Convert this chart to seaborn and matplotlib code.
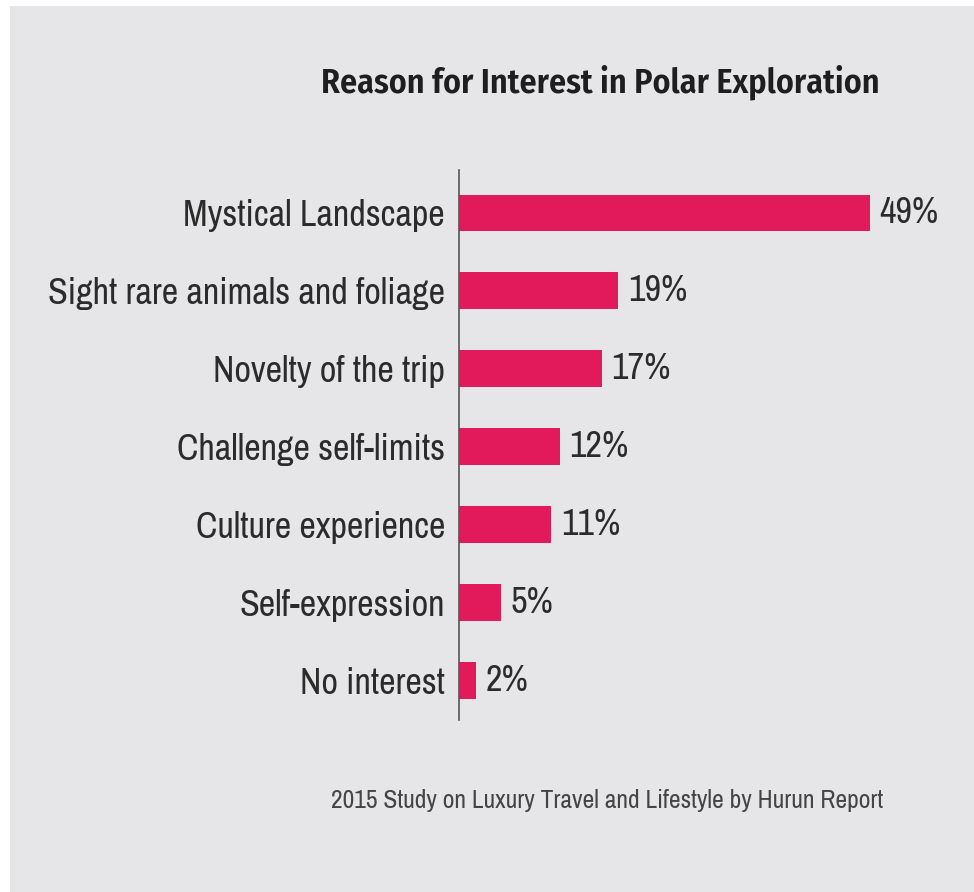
import matplotlib
matplotlib.use("Agg")
import matplotlib.pyplot as plt
import seaborn as sns
import pandas as pd

reasons = [
    "Mystical Landscape",
    "Sight rare animals and foliage",
    "Novelty of the trip",
    "Challenge self-limits",
    "Culture experience",
    "Self-expression",
    "No interest",
]
shares = [49, 19, 17, 12, 11, 5, 2]

title = "Reason for Interest in Polar Exploration"
source = "2015 Study on Luxury Travel and Lifestyle by Hurun Report"

bg = "#e6e6e8"
bar_color = "#e21a5c"
text_color = "#2b2b2b"

sns.set_theme(style="white")
plt.rcParams["font.family"] = ["Archivo Narrow", "Open Sans", "DejaVu Sans"]

df = pd.DataFrame({"reason": reasons, "share": shares})

fig = plt.figure(figsize=(9.74, 8.92), dpi=100, facecolor="white")
# gray card sitting inside a thin white margin
panel = fig.add_axes([10 / 974, 0, 964 / 974, 1 - 6 / 892])
panel.set_facecolor(bg)
panel.set_xticks([]); panel.set_yticks([])
for s in panel.spines.values():
    s.set_visible(False)

ax = fig.add_axes([459 / 974, 1 - 720 / 892, 470 / 974, 550 / 892])
ax.set_facecolor("none")
sns.barplot(data=df, x="share", y="reason", orient="h", color=bar_color,
            saturation=1, width=0.47, linewidth=0, ax=ax)

ax.set_xlim(0, 49 * 470 / 411)
ax.set_ylim(6.51, -0.55)
ax.set_xlabel(""); ax.set_ylabel("")
ax.set_xticks([])
ax.tick_params(axis="y", length=0, pad=10, labelsize=26, labelcolor=text_color)
for s in ["top", "right", "bottom"]:
    ax.spines[s].set_visible(False)
ax.spines["left"].set_color("#555555")
ax.spines["left"].set_linewidth(1.2)

ax.bar_label(ax.containers[0], labels=[f"{v}%" for v in shares],
             padding=7, fontsize=26, color=text_color)

fig.text(600 / 974, 1 - 82 / 892, title, ha="center", va="center",
         fontsize=24.5, fontweight="semibold", color="#1e1e1e",
         family=["Fira Sans Condensed", "Archivo Narrow", "DejaVu Sans"])
fig.text(607 / 974, 1 - 800 / 892, source, ha="center", va="center",
         fontsize=18.4, color="#444444")

fig.savefig("out.png", dpi=100, facecolor="white")
